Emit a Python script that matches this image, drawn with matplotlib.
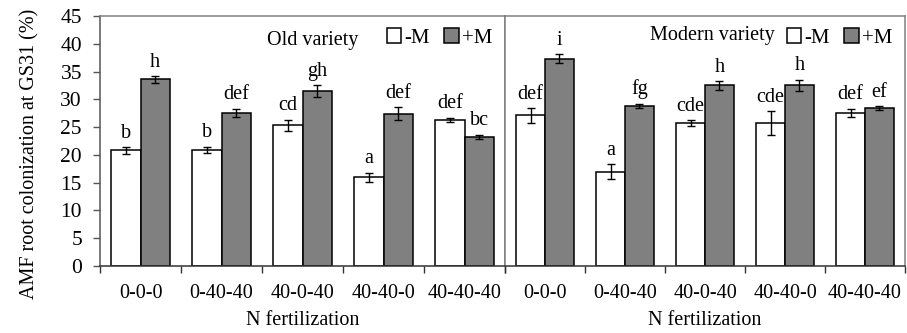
import numpy as np
import matplotlib.pyplot as plt

plt.rcParams['font.family'] = 'Liberation Serif'

treatments = ['0-0-0', '0-40-40', '40-0-40', '40-40-0', '40-40-40']

# Old variety
old_nm = [20.8, 20.9, 25.3, 16.0, 26.3]
old_nm_err = [0.6, 0.6, 1.0, 0.8, 0.4]
old_pm = [33.6, 27.6, 31.5, 27.4, 23.2]
old_pm_err = [0.6, 0.7, 1.0, 1.2, 0.4]
old_nm_let = ['b', 'b', 'cd', 'a', 'def']
old_pm_let = ['h', 'def', 'gh', 'def', 'bc']

# Modern variety
mod_nm = [27.1, 17.0, 25.7, 25.7, 27.6]
mod_nm_err = [1.3, 1.3, 0.5, 2.2, 0.7]
mod_pm = [37.3, 28.8, 32.5, 32.5, 28.4]
mod_pm_err = [0.8, 0.4, 0.8, 1.0, 0.4]
mod_nm_let = ['def', 'a', 'cde', 'cde', 'def']
mod_pm_let = ['i', 'fg', 'h', 'h', 'ef']

W = 0.36
GREY = '#808080'
FS = 14.5


def panel(ax, nm, nm_err, pm, pm_err, nm_let, pm_let, title, title_xy):
    x = np.arange(len(treatments))
    ax.bar(x - W / 2, nm, W, color='white', edgecolor='black', lw=1.1,
           yerr=nm_err, capsize=3, error_kw=dict(lw=1, capthick=1), label='-M')
    ax.bar(x + W / 2, pm, W, color=GREY, edgecolor='black', lw=1.1,
           yerr=pm_err, capsize=3, error_kw=dict(lw=1, capthick=1), label='+M')
    for i in x:
        ax.text(i - W / 2, nm[i] + nm_err[i] + 0.8, nm_let[i], ha='center',
                va='bottom', fontsize=FS)
        ax.text(i + W / 2, pm[i] + pm_err[i] + 0.8, pm_let[i], ha='center',
                va='bottom', fontsize=FS)
    ax.set_xlim(-0.5, len(treatments) - 0.5)
    ax.set_ylim(0, 45)
    ax.set_xticks(x)
    ax.set_xticklabels(treatments, fontsize=FS)
    ax.set_xticks(np.arange(-0.5, len(treatments)), minor=True)
    ax.tick_params(axis='x', which='major', length=0, pad=13)
    ax.tick_params(axis='x', which='minor', length=5, width=1, direction='out',
                   color='#333333')
    ax.set_xlabel('N fertilization', fontsize=FS, labelpad=6)
    for s in ['top', 'right', 'left']:
        ax.spines[s].set_color(GREY)
        ax.spines[s].set_linewidth(1.1)
    ax.spines['bottom'].set_color('#333333')
    ax.spines['bottom'].set_linewidth(1.1)
    ax.text(title_xy[0], title_xy[1], title, transform=ax.transAxes,
            ha='center', va='center', fontsize=FS)
    ax.legend(loc='upper right', bbox_to_anchor=(1.0, 1.0), ncol=2, frameon=False,
              fontsize=15, handlelength=0.7, handleheight=0.7, handletextpad=0.15,
              columnspacing=0.7, borderaxespad=0.2)


fig = plt.figure(figsize=(9.07, 3.33), dpi=100)
ax1 = fig.add_axes([0.1103, 0.2012, 0.4465, 0.7508])
ax2 = fig.add_axes([0.5568, 0.2012, 0.441, 0.7508])

panel(ax1, old_nm, old_nm_err, old_pm, old_pm_err, old_nm_let, old_pm_let,
      'Old variety', (0.526, 0.90))
panel(ax2, mod_nm, mod_nm_err, mod_pm, mod_pm_err, mod_nm_let, mod_pm_let,
      'Modern variety', (0.518, 0.92))

ax1.set_yticks(np.arange(0, 46, 5))
ax1.tick_params(axis='y', labelsize=15.5, length=5, width=1, direction='out',
                pad=8, color='#555555')
ax1.spines['left'].set_color('#555555')
ax1.set_ylabel('AMF root colonization at GS31 (%)', fontsize=FS)
ax1.yaxis.set_label_coords(-0.15, 0.45)
ax2.set_yticks([])

fig.savefig('out.png', dpi=100)
